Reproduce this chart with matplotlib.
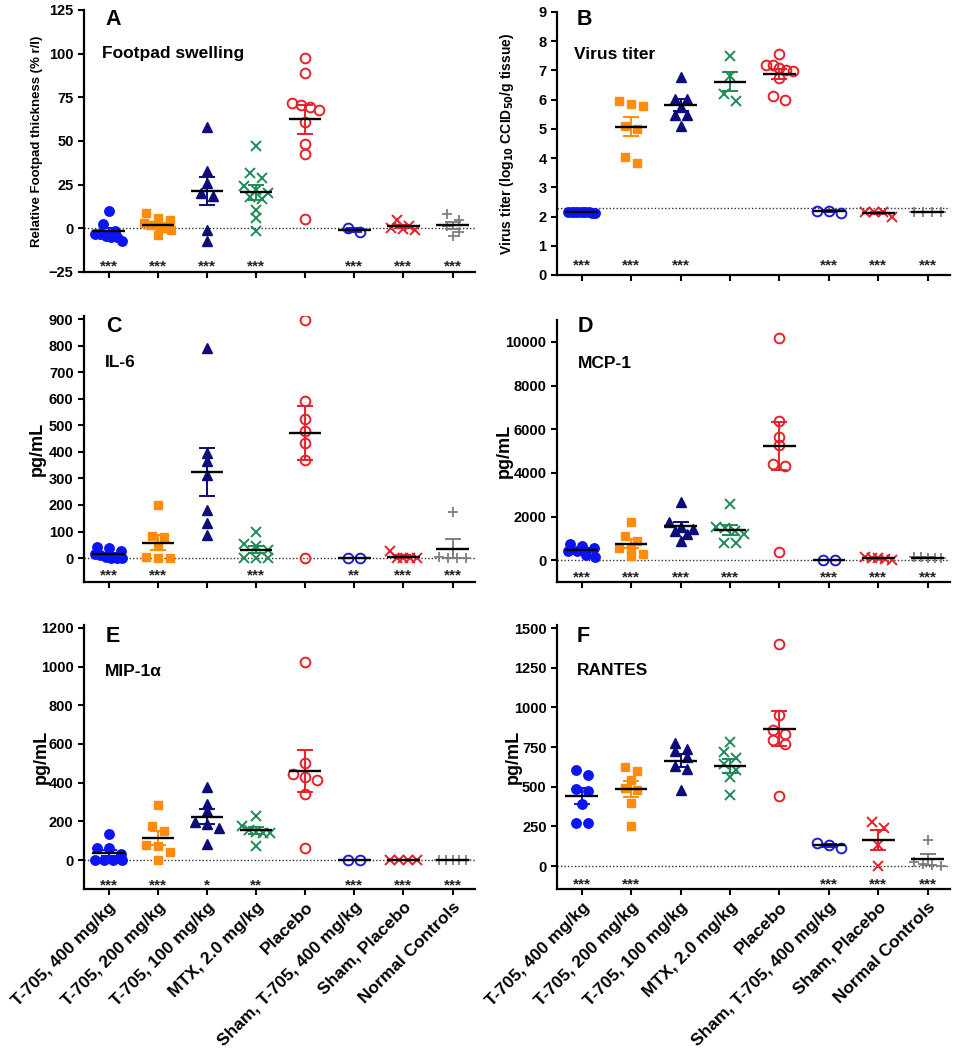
import numpy as np
import matplotlib
matplotlib.use('Agg')
import matplotlib.pyplot as plt
from matplotlib import transforms

plt.rcParams['font.family'] = ['Liberation Sans', 'DejaVu Sans']
plt.rcParams['font.weight'] = 'bold'

# %% Data.
groups = ['T-705, 400 mg/kg', 'T-705, 200 mg/kg', 'T-705, 100 mg/kg', 'MTX, 2.0 mg/kg',
          'Placebo', 'Sham, T-705, 400 mg/kg', 'Sham, Placebo', 'Normal Controls']

# A: footpad swelling
a_vals = [[10, 2.5, -1.5, -3.5, -4.5, -5, -5, -7, -3],
          [8.5, 6, 5, 3, 2, 1, 0, -1, -4, 2],
          [58, 33, 26, 18.5, 20, -1, -7],
          [47, 29, 31.5, 22, 24, 20, 17, 18, 10.5, 6, -1.5],
          [97.5, 89, 70.5, 71.5, 69.5, 67.5, 61, 48, 42.5, 5.5],
          [-2.3, 0.2],
          [4.5, -1, 1.5, 0, -0.5],
          [8.4, -4.6, 4.6, -2.3, 1.5]]
a_mean = [-1.8, 2, 21.5, 20.5, 62.3, -1.1, 1.1, 1.6]
a_sem = [1.7, 1.2, 8, 4.3, 8.3, 1.2, 0.9, 2.2]
a_sig = ['***', '***', '***', '***', '', '***', '***', '***']

# B: virus titer
b_vals = [[2.15, 2.13, 2.16, 2.15, 2.12, 2.15, 2.17, 2.14, 2.15],
          [5.86, 5.97, 5.77, 5.1, 5.0, 4.03, 3.84],
          [6.77, 6.02, 6.02, 5.74, 5.48, 5.48, 5.1],
          [7.5, 6.8, 5.97, 6.2],
          [7.56, 7.17, 7.17, 7.02, 7.08, 6.97, 6.74, 6.11, 6.0],
          [2.13, 2.2, 2.2],
          [2.0, 2.15, 2.15, 2.15],
          [2.15, 2.15, 2.15, 2.15]]
b_mean = [2.15, 5.08, 5.81, 6.62, 6.88, 2.18, 2.12, 2.15]
b_sem = [0.01, 0.32, 0.21, 0.34, 0.17, 0.03, 0.04, 0.0]
b_sig = ['***', '***', '***', '', '', '***', '***', '***']

# C: IL-6
c_vals = [[0, 2, 5, 10, 15, 28, 38, 42, 0],
          [199, 79, 83, 45, 1, 4, 0],
          [790, 394, 366, 312, 182, 132, 86],
          [98, 54, 44, 29, 0, 0, 0],
          [897, 593, 524, 478, 432, 369, 0],
          [0, 0],
          [26, 0, 0, 0, 2],
          [174, 0, 4, 0, 0]]
c_mean = [14, 58, 325, 31, 471, 0, 6, 35]
c_sem = [5, 28, 90, 13, 103, 0, 5, 36]
c_sig = ['***', '***', '', '***', '', '**', '***', '***']

# D: MCP-1
d_vals = [[750, 670, 550, 410, 400, 260, 150],
          [1740, 1100, 870, 520, 170, 290, 550],
          [2683, 1738, 1433, 1357, 1509, 1204, 900],
          [2576, 1463, 1357, 1204, 777, 777, 1500],
          [10198, 6387, 5655, 5290, 4405, 4329, 366],
          [0, 0],
          [0, 100, 130, 80, 60],
          [100, 150, 80, 130, 90]]
d_mean = [460, 750, 1550, 1380, 5240, 0, 80, 110]
d_sem = [85, 210, 220, 240, 1110, 0, 25, 15]
d_sig = ['***', '***', '***', '***', '', '***', '***', '***']

# E: MIP-1 alpha
e_vals = [[134, 60, 62, 30, 0, 0, 0, 0],
          [287, 174, 151, 76, 70, 41, 0],
          [376, 291, 251, 199, 187, 168, 83],
          [229, 174, 156, 139, 144, 139, 70],
          [1025, 504, 445, 428, 414, 342, 62],
          [0, 0],
          [0, 0, 0, 0],
          [0, 0, 0, 0, 0]]
e_mean = [36, 115, 225, 153, 460, 0, 0, 0]
e_sem = [17, 36, 38, 18, 109, 0, 0, 0]
e_sig = ['***', '***', '*', '**', '', '***', '***', '***']

# F: RANTES
f_vals = [[607, 576, 483, 473, 389, 271, 271],
          [624, 599, 540, 477, 492, 399, 252],
          [775, 725, 737, 687, 630, 609, 477],
          [782, 718, 680, 645, 603, 561, 445],
          [1401, 954, 855, 834, 796, 771, 439],
          [116, 147, 130],
          [277, 240, 130, 0],
          [166, 5, 25, 0, 12]]
f_mean = [439, 485, 664, 632, 866, 131, 165, 42]
f_sem = [50, 50, 40, 45, 110, 10, 62, 33]
f_sig = ['***', '***', '', '', '', '***', '***', '***']

# %% Styles per group.
colours = ['#0a14f5', '#ff8c0a', '#0c0c7a', '#1f8c55', '#e8202a', '#1c1cd8', '#e8202a', '#7f7f7f']
styles = [dict(marker='o', ms=6.8, mfc=colours[0], mec=colours[0]),
          dict(marker='s', ms=6.4, mfc=colours[1], mec=colours[1]),
          dict(marker='^', ms=7, mfc=colours[2], mec=colours[2]),
          dict(marker='x', ms=6.5, mec=colours[3], mew=1.4),
          dict(marker='o', ms=7, mfc='none', mec=colours[4], mew=1.4),
          dict(marker='o', ms=7, mfc='none', mec=colours[5], mew=1.4),
          dict(marker='x', ms=6.5, mec=colours[6], mew=1.4),
          dict(marker='+', ms=7.5, mec=colours[7], mew=1.3)]


def swarm_x(ax, center, vals):
    # Spread points with similar values side by side (in pixel space).
    vals = np.asarray(vals, float)
    pts = ax.transData.transform(np.column_stack([np.full(len(vals), center), vals]))
    ypx = pts[:, 1]
    px_unit = ax.transData.transform((1, 0))[0] - ax.transData.transform((0, 0))[0]
    order = np.argsort(-ypx, kind='stable')
    rows = []
    for i in order:
        if rows and ypx[rows[-1][0]] - ypx[i] < 7:
            rows[-1].append(i)
        else:
            rows.append([i])
    xs = np.full(len(vals), float(center))
    for row in rows:
        n = len(row)
        if n == 1:
            continue
        step = min(12 / px_unit, 0.55 / (n - 1))
        for k, i in enumerate(row):
            xs[i] = center + (k - (n - 1) / 2) * step
    return xs


def draw_panel(ax, vals, means, sems, sig, ylim, yticks, ref, letter, title,
               ylabel, ylsize, ylx, star_y, xlabels=False):
    ax.set_xlim(-0.5, 7.45)
    ax.set_ylim(*ylim)
    ax.set_yticks(yticks)
    ax.set_xticks(range(len(groups)))
    for s in ['top', 'right']:
        ax.spines[s].set_visible(False)
    for s in ['left', 'bottom']:
        ax.spines[s].set_linewidth(1.6)
    ax.tick_params(axis='both', width=1.5, length=4, labelsize=10.5)
    for lab in ax.get_yticklabels():
        lab.set_fontweight('bold')
    if xlabels:
        ax.set_xticklabels(groups, rotation=45, ha='right', rotation_mode='anchor',
                           fontsize=12.5, fontweight='bold')
    else:
        ax.set_xticklabels([])

    # Reference line.
    ax.axhline(ref, color='#333333', ls=(0, (1, 1.5)), lw=1.0, zorder=1)

    for i, v in enumerate(vals):
        xs = swarm_x(ax, i, v)
        ax.plot(xs, v, ls='none', zorder=3, **styles[i])
        ax.errorbar(i, means[i], yerr=sems[i], fmt='none', ecolor=colours[i],
                    elinewidth=1.4, capsize=5.5, capthick=1.4, zorder=4)
        ax.hlines(means[i], i - 0.33, i + 0.33, color='k', lw=1.7, zorder=5)

    trans = transforms.blended_transform_factory(ax.transData, ax.transAxes)
    for i, s in enumerate(sig):
        if s:
            ax.annotate(s, (i, star_y), xycoords=trans, xytext=(0, -6.5),
                        textcoords='offset points', ha='center', va='baseline',
                        fontsize=11, fontweight='bold', color='#222222')

    ax.text(letter[1], letter[2], letter[0], transform=ax.transAxes, fontsize=15.5,
            fontweight='bold', va='baseline', ha='left')
    ax.text(title[1], title[2], title[0], transform=ax.transAxes, fontsize=12.5,
            fontweight='bold', va='baseline', ha='left')
    ax.set_ylabel(ylabel, fontsize=ylsize, fontweight='bold')
    ax.yaxis.label.set_va('center')
    ax.yaxis.set_label_coords(ylx, 0.5)


# %% Plotting.
fig = plt.figure(figsize=(9.6, 10.5), dpi=100)

ax_a = fig.add_axes([0.0875, 0.741, 0.407, 0.2495])
ax_b = fig.add_axes([0.5802, 0.7381, 0.4094, 0.2505])
ax_c = fig.add_axes([0.0875, 0.4457, 0.407, 0.253])
ax_d = fig.add_axes([0.5802, 0.4457, 0.4094, 0.2495])
ax_e = fig.add_axes([0.0875, 0.1533, 0.407, 0.2514])
ax_f = fig.add_axes([0.5802, 0.1533, 0.4094, 0.2514])

draw_panel(ax_a, a_vals, a_mean, a_sem, a_sig, (-25, 125), range(-25, 126, 25), 0,
           ('A', 0.056, 0.943), ('Footpad swelling', 0.046, 0.817),
           'Relative Footpad thickness (% r/l)', 9.5, -0.12, 0.042)
draw_panel(ax_b, b_vals, b_mean, b_sem, b_sig, (0, 9), range(0, 10), 2.3,
           ('B', 0.051, 0.951), ('Virus titer', 0.043, 0.821),
           'Virus titer (log$_{\\mathbf{10}}$ CCID$_{\\mathbf{50}}$/g tissue)', 10, -0.127, 0.057)
draw_panel(ax_c, c_vals, c_mean, c_sem, c_sig, (-90, 910), range(0, 901, 100), 0,
           ('C', 0.056, 0.94), ('IL-6', 0.054, 0.808), 'pg/mL', 13, -0.12, 0.045)
draw_panel(ax_d, d_vals, d_mean, d_sem, d_sig, (-1000, 11000), range(0, 10001, 2000), 0,
           ('D', 0.053, 0.954), ('MCP-1', 0.053, 0.817), 'pg/mL', 13, -0.135, 0.038)
draw_panel(ax_e, e_vals, e_mean, e_sem, e_sig, (-150, 1215), range(0, 1201, 200), 0,
           ('E', 0.056, 0.936), ('MIP-1\u03b1', 0.054, 0.807), 'pg/mL', 13, -0.11, 0.034,
           xlabels=True)
draw_panel(ax_f, f_vals, f_mean, f_sem, f_sig, (-145, 1519), range(0, 1501, 250), 0,
           ('F', 0.051, 0.936), ('RANTES', 0.051, 0.81), 'pg/mL', 13, -0.112, 0.038,
           xlabels=True)

fig.savefig('out.png', dpi=100)
plt.close(fig)
